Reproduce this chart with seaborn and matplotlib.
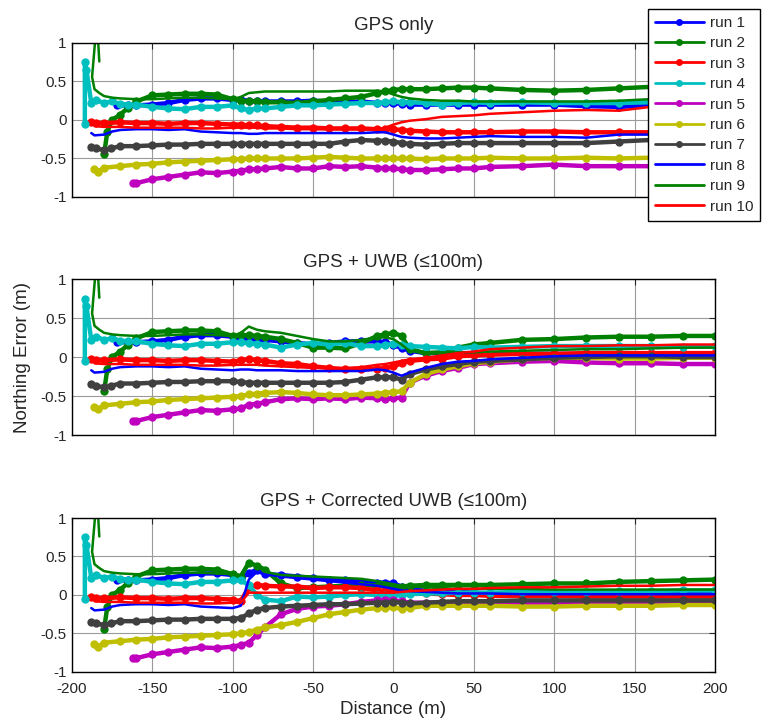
import matplotlib
matplotlib.use("Agg")
import matplotlib.pyplot as plt
import seaborn as sns

# --- data -------------------------------------------------------------
runs = ["run 1", "run 2", "run 3", "run 4", "run 5",
        "run 6", "run 7", "run 8", "run 9", "run 10"]
colors = ["#0000ff", "#008000", "#ff0000", "#00bfbf", "#bf00bf",
          "#bfbf00", "#404040", "#0000ff", "#008000", "#ff0000"]
dotted = [True, True, True, True, True, True, True, False, False, False]

titles = ["GPS only", "GPS + UWB (\u2264100m)", "GPS + Corrected UWB (\u2264100m)"]
x_ticks = [-200, -150, -100, -50, 0, 50, 100, 150, 200]
y_ticks = [-1, -0.5, 0, 0.5, 1]
y_tick_labels = ["-1", "-0.5", "0", "0.5", "1"]

# start of every run, identical in the three panels (up to -100 m)
head_x1 = [-172, -165, -160, -150, -140, -130, -120, -110, -100]
head_y1 = [0.19, 0.19, 0.19, 0.2, 0.22, 0.26, 0.28, 0.28, 0.26]
head_x2 = [-180, -178, -175, -170, -165, -160, -150, -140, -130, -120, -110, -100]
head_y2 = [-0.44, -0.15, 0.0, 0.07, 0.16, 0.24, 0.32, 0.33, 0.34, 0.34, 0.33, 0.27]
head_x3 = [-188, -185, -180, -170, -160, -150, -140, -130, -120, -110, -100]
head_y3 = [-0.03, -0.04, -0.04, -0.03, -0.04, -0.04, -0.05, -0.04, -0.04, -0.05, -0.06]
head_x4 = [-192, -192, -191, -188, -185, -180, -175, -170, -165, -160, -150, -140, -130, -120, -110, -100]
head_y4 = [-0.05, 0.75, 0.65, 0.22, 0.26, 0.22, 0.24, 0.21, 0.2, 0.2, 0.17, 0.15, 0.14, 0.17, 0.17, 0.19]
head_x5 = [-162, -160, -150, -140, -130, -120, -110, -100]
head_y5 = [-0.82, -0.82, -0.77, -0.74, -0.71, -0.68, -0.69, -0.67]
head_x6 = [-186, -184, -180, -170, -160, -150, -140, -130, -120, -110, -100]
head_y6 = [-0.64, -0.67, -0.62, -0.6, -0.58, -0.57, -0.55, -0.54, -0.53, -0.52, -0.51]
head_x7 = [-188, -185, -180, -176, -170, -160, -150, -140, -130, -120, -110, -100]
head_y7 = [-0.35, -0.37, -0.39, -0.37, -0.34, -0.34, -0.33, -0.32, -0.32, -0.31, -0.31, -0.31]
head_x8 = [-188, -186, -180, -175, -170, -160, -150, -140, -130, -120, -110, -100]
head_y8 = [-0.17, -0.2, -0.19, -0.15, -0.13, -0.12, -0.12, -0.13, -0.12, -0.15, -0.16, -0.17]
head_x9 = [-183, -184.5, -187.5, -186, -183, -180, -175, -170, -160, -150, -140, -130, -120, -110, -100]
head_y9 = [0.76, 1.3, 0.56, 0.4, 0.35, 0.31, 0.29, 0.28, 0.27, 0.27, 0.28, 0.29, 0.29, 0.28, 0.27]
head_x10 = [-186, -180, -170, -160, -150, -140, -130, -120, -110, -100]
head_y10 = [-0.08, -0.09, -0.09, -0.1, -0.1, -0.1, -0.1, -0.11, -0.11, -0.1]

# rest of every run, per panel
tail_x = [-95, -90, -85, -80, -70, -60, -50, -40, -30, -20, -10, -5, 0, 5, 10,
          20, 30, 40, 50, 60, 80, 100, 120, 140, 160, 180, 200]

# GPS only
gps1 = [0.26, 0.25, 0.24, 0.24, 0.24, 0.24, 0.25, 0.24, 0.23, 0.24, 0.22, 0.22, 0.22, 0.21, 0.2,
        0.2, 0.2, 0.2, 0.2, 0.2, 0.2, 0.2, 0.18, 0.17, 0.19, 0.2, 0.2]
gps2 = [0.25, 0.24, 0.24, 0.23, 0.23, 0.22, 0.24, 0.26, 0.28, 0.3, 0.35, 0.37, 0.39, 0.4, 0.4,
        0.4, 0.41, 0.42, 0.42, 0.41, 0.39, 0.38, 0.39, 0.41, 0.43, 0.43, 0.44]
gps3 = [-0.06, -0.07, -0.07, -0.08, -0.09, -0.1, -0.1, -0.11, -0.11, -0.11, -0.12, -0.12, -0.12, -0.13, -0.14,
        -0.15, -0.16, -0.16, -0.16, -0.16, -0.15, -0.15, -0.16, -0.16, -0.16, -0.17, -0.17]
gps4 = [0.15, 0.13, 0.15, 0.15, 0.17, 0.19, 0.19, 0.2, 0.21, 0.22, 0.22, 0.23, 0.24, 0.23, 0.23,
        0.22, 0.2, 0.22, 0.23, 0.22, 0.23, 0.22, 0.22, 0.22, 0.23, 0.24, 0.24]
gps5 = [-0.66, -0.64, -0.64, -0.63, -0.61, -0.63, -0.63, -0.6, -0.61, -0.6, -0.62, -0.63, -0.63, -0.64, -0.65,
        -0.65, -0.64, -0.63, -0.63, -0.61, -0.6, -0.58, -0.6, -0.6, -0.6, -0.6, -0.59]
gps6 = [-0.51, -0.5, -0.5, -0.5, -0.5, -0.5, -0.49, -0.48, -0.49, -0.5, -0.5, -0.5, -0.5, -0.5, -0.5,
        -0.51, -0.5, -0.5, -0.5, -0.49, -0.5, -0.5, -0.49, -0.5, -0.49, -0.49, -0.49]
gps7 = [-0.31, -0.31, -0.31, -0.31, -0.31, -0.31, -0.31, -0.31, -0.28, -0.26, -0.27, -0.27, -0.28, -0.3, -0.31,
        -0.32, -0.31, -0.3, -0.3, -0.3, -0.3, -0.3, -0.3, -0.28, -0.26, -0.25, -0.25]
gps8 = [-0.17, -0.18, -0.18, -0.17, -0.17, -0.17, -0.17, -0.17, -0.17, -0.17, -0.16, -0.16, -0.19, -0.22, -0.23,
        -0.24, -0.24, -0.23, -0.22, -0.21, -0.22, -0.22, -0.23, -0.19, -0.19, -0.18, -0.18]
gps9 = [0.3, 0.35, 0.36, 0.37, 0.37, 0.37, 0.37, 0.37, 0.38, 0.38, 0.38, 0.37, 0.33, 0.3, 0.28,
        0.26, 0.25, 0.25, 0.24, 0.24, 0.24, 0.24, 0.24, 0.25, 0.27, 0.28, 0.3]
gps10 = [-0.1, -0.1, -0.1, -0.11, -0.11, -0.12, -0.12, -0.12, -0.12, -0.12, -0.12, -0.1, -0.06, -0.03, -0.01,
         0.01, 0.04, 0.05, 0.06, 0.08, 0.1, 0.12, 0.13, 0.12, 0.17, 0.18, 0.19]

# GPS + UWB
uwb1 = [0.23, 0.23, 0.2, 0.22, 0.2, 0.18, 0.16, 0.18, 0.2, 0.2, 0.2, 0.19, 0.15, 0.12, 0.08,
        0.05, 0.05, 0.05, 0.05, 0.05, 0.04, 0.04, 0.04, 0.04, 0.04, 0.04, 0.04]
uwb2 = [0.28, 0.28, 0.27, 0.26, 0.23, 0.18, 0.12, 0.12, 0.11, 0.18, 0.27, 0.29, 0.31, 0.27, 0.1,
        0.05, 0.06, 0.12, 0.16, 0.18, 0.22, 0.23, 0.25, 0.26, 0.26, 0.27, 0.27]
uwb3 = [-0.04, -0.03, -0.04, -0.05, -0.08, -0.09, -0.12, -0.14, -0.16, -0.16, -0.15, -0.14, -0.12, -0.08, -0.05,
        -0.03, -0.02, 0.01, 0.02, 0.03, 0.04, 0.04, 0.05, 0.05, 0.05, 0.05, 0.05]
uwb4 = [0.19, 0.18, 0.17, 0.16, 0.12, 0.16, 0.18, 0.16, 0.18, 0.14, 0.14, 0.15, 0.17, 0.16, 0.14,
        0.13, 0.12, 0.11, 0.13, 0.12, 0.13, 0.14, 0.14, 0.14, 0.14, 0.13, 0.14]
uwb5 = [-0.66, -0.61, -0.6, -0.58, -0.54, -0.53, -0.54, -0.53, -0.54, -0.52, -0.53, -0.54, -0.53, -0.52, -0.33,
        -0.24, -0.18, -0.14, -0.09, -0.08, -0.06, -0.05, -0.07, -0.08, -0.08, -0.09, -0.09]
uwb6 = [-0.5, -0.48, -0.47, -0.46, -0.45, -0.46, -0.48, -0.49, -0.49, -0.48, -0.47, -0.46, -0.45, -0.44, -0.33,
        -0.22, -0.16, -0.12, -0.08, -0.06, -0.03, -0.01, -0.01, -0.02, -0.02, -0.01, -0.01]
uwb7 = [-0.32, -0.33, -0.33, -0.33, -0.33, -0.33, -0.33, -0.33, -0.32, -0.29, -0.26, -0.26, -0.26, -0.29, -0.22,
        -0.16, -0.12, -0.09, -0.06, -0.05, -0.03, -0.01, 0.0, 0.01, 0.01, 0.0, 0.0]
uwb8 = [-0.16, -0.16, -0.17, -0.17, -0.17, -0.18, -0.18, -0.18, -0.18, -0.18, -0.16, -0.17, -0.2, -0.24, -0.2,
        -0.14, -0.09, -0.06, -0.05, -0.03, -0.01, 0.01, 0.02, 0.02, 0.02, 0.02, 0.02]
uwb9 = [0.31, 0.39, 0.35, 0.33, 0.31, 0.27, 0.23, 0.2, 0.2, 0.22, 0.25, 0.25, 0.23, 0.16, 0.08,
        0.06, 0.06, 0.06, 0.06, 0.07, 0.08, 0.09, 0.1, 0.1, 0.11, 0.12, 0.12]
uwb10 = [-0.1, -0.1, -0.1, -0.11, -0.12, -0.13, -0.14, -0.14, -0.14, -0.13, -0.1, -0.09, -0.07, -0.05, -0.03,
         -0.01, 0.02, 0.05, 0.07, 0.1, 0.12, 0.14, 0.14, 0.15, 0.15, 0.16, 0.16]

# GPS + corrected UWB
cor1 = [0.22, 0.28, 0.33, 0.27, 0.26, 0.24, 0.22, 0.2, 0.2, 0.17, 0.16, 0.16, 0.15, 0.11, 0.09,
        0.05, 0.04, 0.04, 0.03, 0.02, 0.02, 0.02, 0.03, 0.03, 0.03, 0.03, 0.03]
cor2 = [0.24, 0.42, 0.38, 0.33, 0.15, 0.09, 0.1, 0.11, 0.12, 0.13, 0.12, 0.12, 0.11, 0.11, 0.12,
        0.13, 0.13, 0.13, 0.13, 0.13, 0.14, 0.15, 0.15, 0.17, 0.18, 0.19, 0.2]
cor3 = [-0.08, 0.1, 0.13, 0.12, 0.11, 0.11, 0.09, 0.1, 0.1, 0.09, 0.06, 0.05, 0.04, 0.03, 0.02,
        0.02, 0.01, 0.0, 0.0, -0.01, -0.01, -0.01, -0.02, -0.02, -0.02, -0.02, -0.02]
cor4 = [0.19, 0.13, 0.0, -0.06, -0.08, -0.02, -0.03, -0.02, 0.0, 0.01, 0.0, 0.0, -0.01, 0.0, 0.01,
        0.02, 0.02, 0.03, 0.03, 0.03, 0.04, 0.04, 0.04, 0.05, 0.05, 0.06, 0.06]
cor5 = [-0.65, -0.62, -0.52, -0.42, -0.25, -0.18, -0.15, -0.14, -0.12, -0.09, -0.07, -0.06, -0.07, -0.08, -0.1,
        -0.1, -0.1, -0.1, -0.1, -0.1, -0.11, -0.11, -0.1, -0.1, -0.1, -0.09, -0.09]
cor6 = [-0.5, -0.48, -0.45, -0.42, -0.39, -0.35, -0.3, -0.25, -0.22, -0.19, -0.17, -0.17, -0.16, -0.18, -0.17,
        -0.14, -0.14, -0.14, -0.14, -0.14, -0.15, -0.15, -0.14, -0.14, -0.14, -0.13, -0.13]
cor7 = [-0.3, -0.24, -0.19, -0.17, -0.15, -0.14, -0.13, -0.12, -0.12, -0.11, -0.1, -0.1, -0.09, -0.1, -0.11,
        -0.1, -0.09, -0.08, -0.08, -0.08, -0.07, -0.07, -0.07, -0.07, -0.07, -0.07, -0.07]
cor8 = [-0.14, 0.2, 0.3, 0.27, 0.24, 0.22, 0.2, 0.18, 0.16, 0.14, 0.12, 0.1, 0.08, 0.06, 0.05,
        0.04, 0.03, 0.02, 0.02, 0.02, 0.01, 0.01, 0.01, 0.01, 0.01, 0.01, 0.01]
cor9 = [0.26, 0.42, 0.39, 0.3, 0.26, 0.25, 0.24, 0.23, 0.22, 0.21, 0.18, 0.16, 0.14, 0.12, 0.11,
        0.1, 0.09, 0.08, 0.08, 0.08, 0.08, 0.07, 0.07, 0.07, 0.07, 0.07, 0.07]
cor10 = [-0.1, 0.03, 0.03, 0.03, 0.03, 0.03, 0.03, 0.03, 0.03, 0.03, 0.03, 0.03, 0.03, 0.04, 0.05,
         0.06, 0.07, 0.08, 0.08, 0.09, 0.1, 0.1, 0.11, 0.12, 0.12, 0.13, 0.13]

heads = [(head_x1, head_y1), (head_x2, head_y2), (head_x3, head_y3), (head_x4, head_y4),
         (head_x5, head_y5), (head_x6, head_y6), (head_x7, head_y7), (head_x8, head_y8),
         (head_x9, head_y9), (head_x10, head_y10)]
panels = [
    [gps1, gps2, gps3, gps4, gps5, gps6, gps7, gps8, gps9, gps10],
    [uwb1, uwb2, uwb3, uwb4, uwb5, uwb6, uwb7, uwb8, uwb9, uwb10],
    [cor1, cor2, cor3, cor4, cor5, cor6, cor7, cor8, cor9, cor10],
]

# --- plot ---------------------------------------------------------------
sns.set_style("white")
plt.rcParams["font.family"] = ["Liberation Sans", "DejaVu Sans"]
plt.rcParams["axes.unicode_minus"] = False

fig = plt.figure(figsize=(7.65, 7.26), dpi=100)
boxes = [[0.0941, 0.7287, 0.8405, 0.2121],
         [0.0941, 0.4008, 0.8405, 0.2149],
         [0.0941, 0.0744, 0.8405, 0.2121]]

for p, tails in enumerate(panels):
    ax = fig.add_axes(boxes[p])
    for i in range(10):
        hx, hy = heads[i]
        kw = dict(color=colors[i], label=runs[i], sort=False, estimator=None,
                  legend=False, ax=ax)
        if dotted[i]:
            kw.update(marker="o", markersize=6, markeredgewidth=0, linewidth=3.2)
        else:
            kw.update(linewidth=1.8)
        sns.lineplot(x=hx + tail_x, y=hy + tails[i], **kw)

    ax.set_xlim(-200, 200)
    ax.set_ylim(-1, 1)
    ax.set_xticks(x_ticks)
    ax.set_yticks(y_ticks)
    ax.set_yticklabels(y_tick_labels)
    ax.grid(True, color="#9a9a9a", linewidth=0.8)
    ax.set_axisbelow(True)
    ax.tick_params(direction="in", top=True, right=True, length=4, width=0.8,
                   labelsize=11, pad=4)
    ax.tick_params(axis="x", pad=7)
    for s in ax.spines.values():
        s.set_color("black")
        s.set_linewidth(1.0)
    ax.set_title(titles[p], fontsize=13.5, pad=9)
    ax.set_xlabel("")
    ax.set_ylabel("")
    if p < 2:
        ax.tick_params(labelbottom=False)
    else:
        ax.set_xticklabels([str(t) for t in x_ticks])
        ax.set_xlabel("Distance (m)", fontsize=13.5)
        ax.xaxis.set_label_coords(0.5, -0.19)
    if p == 1:
        ax.set_ylabel("Northing Error (m)", fontsize=13.5)
        ax.yaxis.set_label_coords(-0.064, 0.5)
    if p == 0:
        top_ax = ax

handles, labels = top_ax.get_legend_handles_labels()
leg = fig.legend(handles, labels, loc="upper left",
                 bbox_to_anchor=(648 / 765, 1 - 9 / 726), bbox_transform=fig.transFigure,
                 fontsize=11, frameon=True, fancybox=False, framealpha=1,
                 edgecolor="black", borderaxespad=0, borderpad=0.45,
                 labelspacing=0.42, handlelength=3.2, handletextpad=0.4, numpoints=1)
leg.get_frame().set_linewidth(1.0)
for h in leg.legend_handles:
    h.set_linewidth(2.0)
    h.set_markersize(5)

fig.savefig("out.png", dpi=100)
